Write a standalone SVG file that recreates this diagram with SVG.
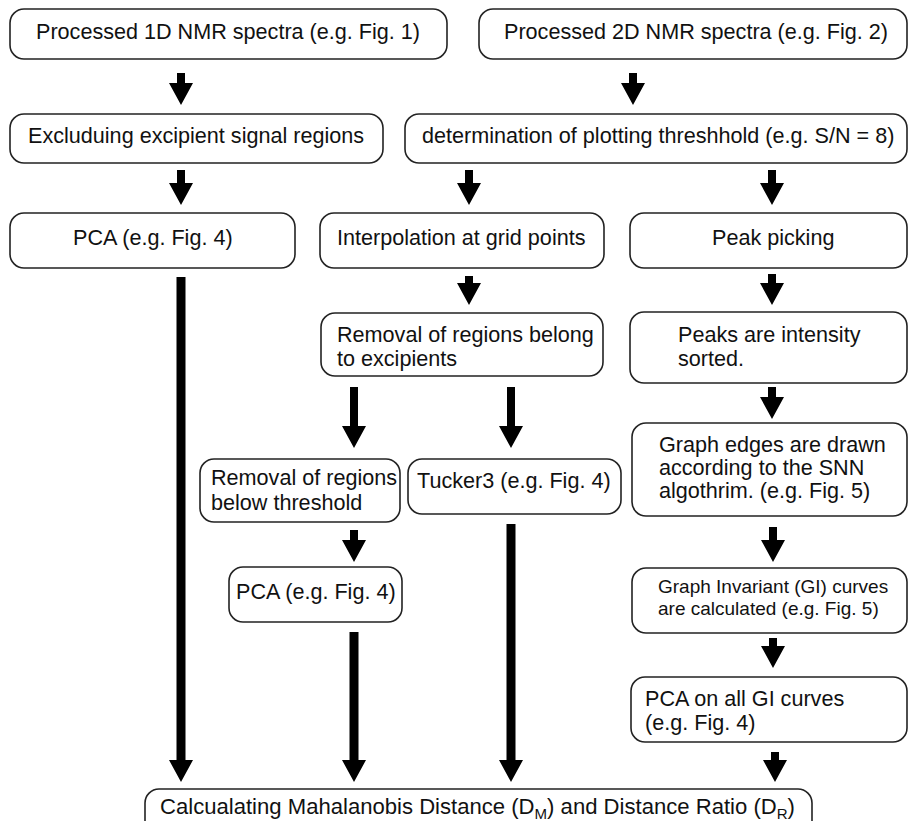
<svg xmlns="http://www.w3.org/2000/svg" width="908" height="821" viewBox="0 0 908 821">
<style>
.box{fill:#fff;stroke:#222;stroke-width:1.6}
.t{font-family:"Liberation Sans",Arial,sans-serif;font-size:21.6px;fill:#111}
.s{font-size:19px}
.arr{fill:#000}
</style>
<rect width="908" height="821" fill="#fff"/>
<g id="connectors">
<path class="arr" d="M177,73H185V83H193L181,105L169,83H177Z"/>
<path class="arr" d="M629,73H637V83H645L633,105L621,83H629Z"/>
<path class="arr" d="M177,170H185V183H193L181,205L169,183H177Z"/>
<path class="arr" d="M465,170H473V183H481L469,205L457,183H465Z"/>
<path class="arr" d="M768,170H776V183H784L772,205L760,183H768Z"/>
<path class="arr" d="M465,276H473V283H481L469,305L457,283H465Z"/>
<path class="arr" d="M768,274H776V283H784L772,305L760,283H768Z"/>
<path class="arr" d="M350,387H358V426H366L354,448L342,426H350Z"/>
<path class="arr" d="M507,387H515V426H523L511,448L499,426H507Z"/>
<path class="arr" d="M768,387H776V397H784L772,419L760,397H768Z"/>
<path class="arr" d="M769,527H777V540H785L773,562L761,540H769Z"/>
<path class="arr" d="M350,530H358V540H366L354,562L342,540H350Z"/>
<path class="arr" d="M769,638H777V646H785L773,668L761,646H769Z"/>
<path class="arr" d="M176.5,277H185.5V760H193L181,782L169,760H176.5Z"/>
<path class="arr" d="M349.5,632H358.5V760H366L354,782L342,760H349.5Z"/>
<path class="arr" d="M506.5,524H515.5V760H523L511,782L499,760H506.5Z"/>
<path class="arr" d="M771,752H779V760H787L775,782L763,760H771Z"/>
</g>
<g id="n1"><rect class="box" x="10" y="9" width="437" height="50" rx="14"/><text class="t" x="36" y="39">Processed 1D NMR spectra (e.g. Fig. 1)</text></g>
<g id="n2"><rect class="box" x="479" y="9" width="428" height="50" rx="14"/><text class="t" x="504" y="39">Processed 2D NMR spectra (e.g. Fig. 2)</text></g>
<g id="n3"><rect class="box" x="10" y="114" width="373" height="49" rx="14"/><text class="t" x="28" y="143">Excluduing excipient signal regions</text></g>
<g id="n4"><rect class="box" x="405" y="114" width="502" height="49" rx="14"/><text class="t" x="422" y="143">determination of plotting threshhold (e.g. S/N = 8)</text></g>
<g id="n5"><rect class="box" x="10" y="213" width="285" height="55" rx="14"/><text class="t" x="73" y="245">PCA (e.g. Fig. 4)</text></g>
<g id="n6"><rect class="box" x="320" y="213" width="284" height="55" rx="14"/><text class="t" x="337" y="245">Interpolation at grid points</text></g>
<g id="n7"><rect class="box" x="630" y="213" width="277" height="55" rx="14"/><text class="t" x="712" y="245">Peak picking</text></g>
<g id="n8"><rect class="box" x="321" y="313" width="282" height="63" rx="14"/><text class="t" x="337" y="342">Removal of regions belong</text><text class="t" x="337" y="366">to excipients</text></g>
<g id="n9"><rect class="box" x="630" y="312" width="277" height="71" rx="14"/><text class="t" x="678" y="342">Peaks are intensity</text><text class="t" x="678" y="366">sorted.</text></g>
<g id="n10"><rect class="box" x="200" y="459" width="200" height="63" rx="14"/><text class="t" x="211" y="485">Removal of regions</text><text class="t" x="211" y="510">below threshold</text></g>
<g id="n11"><rect class="box" x="408" y="459" width="213" height="55" rx="14"/><text class="t" x="417" y="488">Tucker3 (e.g. Fig. 4)</text></g>
<g id="n12"><rect class="box" x="229" y="567" width="173" height="55" rx="14"/><text class="t" x="236" y="599">PCA (e.g. Fig. 4)</text></g>
<g id="n13"><rect class="box" x="632" y="423" width="275" height="93" rx="14"/><text class="t" x="659" y="452">Graph edges are drawn</text><text class="t" x="659" y="475">according to the SNN</text><text class="t" x="659" y="498">algothrim. (e.g. Fig. 5)</text></g>
<g id="n14"><rect class="box" x="632" y="568" width="275" height="65" rx="14"/><text class="t s" x="658" y="593">Graph Invariant (GI) curves</text><text class="t s" x="658" y="615">are calculated (e.g. Fig. 5)</text></g>
<g id="n15"><rect class="box" x="631" y="677" width="276" height="65" rx="14"/><text class="t" x="645" y="706">PCA on all GI curves</text><text class="t" x="645" y="730">(e.g. Fig. 4)</text></g>
<g id="n16"><rect class="box" x="145" y="789" width="667" height="50" rx="14"/><text class="t" x="160" y="814" style="font-size:22px" textLength="635" lengthAdjust="spacingAndGlyphs">Calcualating Mahalanobis Distance (D<tspan font-size="15" dy="5">M</tspan><tspan dy="-5">) and Distance Ratio (D</tspan><tspan font-size="15" dy="5">R</tspan><tspan dy="-5">)</tspan></text></g>
</svg>
